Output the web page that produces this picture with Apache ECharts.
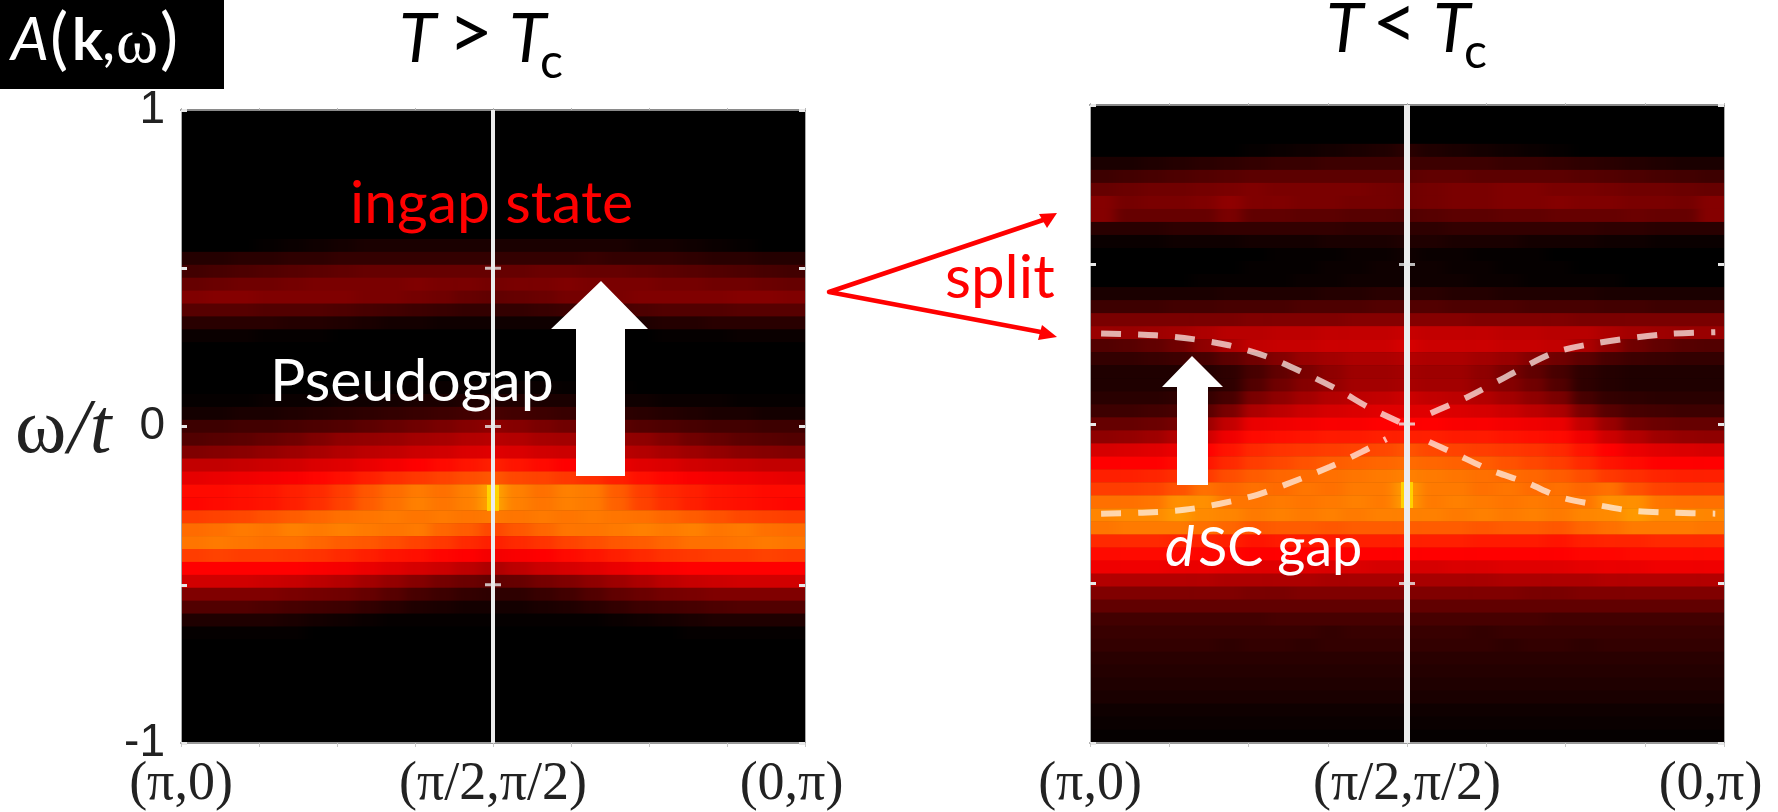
<!DOCTYPE html>
<html><head><meta charset="utf-8">
<style>
html,body{margin:0;padding:0;background:#fff}
#wrap{position:relative;width:1778px;height:812px;overflow:hidden}
#clip{position:absolute;left:0;top:0;width:1778px;height:812px;clip-path:path('M181 110H805V743H181Z M1090 105H1724V743H1090Z')}
#heat{width:1778px;height:812px;filter:url(#hblur)}
#c{position:absolute;left:0;top:0;width:1778px;height:812px}
</style>
<script src="https://cdn.jsdelivr.net/npm/echarts@6/dist/echarts.min.js"></script>
</head><body>
<svg width="0" height="0" style="position:absolute"><filter id="hblur" x="0" y="0" width="100%" height="100%" color-interpolation-filters="sRGB"><feGaussianBlur stdDeviation="6 0"/></filter></svg>
<div id="wrap"><div id="clip"><div id="heat"></div></div><div id="c"></div></div>
<script>
// x tick labels (k path) and omega ticks
const kTickLabels = ['(π,0)','','','','(π/2,π/2)','','','','(0,π)  '];
const omegaTickLabels = {'1':'1','0':'0','-1':'-1'};
const centerK = [[4,-1],[4,1]];
const centerTicks = [[4,0.5],[4,0],[4,-0.5]];
const peakAbove = [[4,-0.226]];
const peakBelow = [[4,-0.2225]];

// A(k,w) intensity rows, top row first, T > Tc
const aboveTc = [
[0,0,0,0,0,0,0,0,0,0,0,0,0,0,0,0,0,0,0,0,0,0,0,0,0],
[0,0,0,0,0,0,0,0,0,0,0,0,0,0,0,0,0,0,0,0,0,0,0,0,0],
[0,0,0,0,0,0,0,0,0,0,0,0,0,0,0,0,0,0,0,0,0,0,0,0,0],
[0,0,0,0,0,0,0,0,0,0,0,0,0,0,0,0,0,0,0,0,0,0,0,0,0],
[0,0,0,0,0,0,0,0,0,0,0,0,0,0,0,0,0,0,0,0,0,0,0,0,0],
[0,0,0,0,0,0,0,0,0,0,0,0,0,0,0,0,0,0,0,0,0,0,0,0,0],
[0,0,0,0,0,0,0,0,0,0,0,0,0,0,0,0,0,0,0,0,0,0,0,0,0],
[0,0,0,0,0,0,0,0,0,0,0,0,0,0,0,0,0,0,0,0,0,0,0,0,0],
[0,0,0,0,0,0,0,0,0,0,0,0,0,0,0,0,0,0,0,0,0,0,0,0,0],
[0,0,0,0,0,0,0,0,0,0,0,0,0,0,0,0,0,0,0,0,0,0,0,0,0],
[0,0,0,1,2,3,4,5,5,5,5,5,5,5,5,5,5,5,4,4,3,2,1,0,0],
[7,7,8,8,9,9,10,10,10,10,10,10,10,10,10,10,11,10,10,10,9,8,8,7,7],
[13,14,15,16,17,18,19,20,20,20,20,20,20,20,21,21,20,20,19,18,17,16,15,14,13],
[20,21,22,22,23,24,24,24,24,25,24,24,23,24,24,25,24,24,24,23,23,22,22,21,20],
[25,26,26,25,25,25,25,24,24,23,22,20,19,20,21,23,23,24,25,25,25,25,26,26,25],
[17,17,17,16,16,16,15,14,13,12,11,10,10,10,11,12,13,14,15,16,16,16,17,17,17],
[8,8,8,8,7,7,6,5,4,4,3,3,3,3,3,3,4,5,6,7,7,8,8,8,8],
[2,2,2,1,1,1,0,0,0,0,0,0,0,0,0,0,0,0,0,1,1,1,2,2,2],
[0,0,0,0,0,0,0,0,0,0,0,0,0,0,0,0,0,0,0,0,0,0,0,0,0],
[0,0,0,0,0,0,0,0,0,0,0,0,0,0,0,0,0,0,0,0,0,0,0,0,0],
[0,0,0,0,0,0,0,0,0,0,0,0,0,0,0,0,0,0,0,0,0,0,0,0,0],
[0,0,0,0,0,0,0,1,1,1,2,2,2,2,2,1,1,1,0,0,0,0,0,0,0],
[1,1,1,2,2,2,3,3,4,5,5,6,6,6,5,5,4,3,3,2,2,2,1,1,1],
[4,4,5,5,6,7,8,9,10,11,12,13,14,13,12,11,10,9,8,7,6,5,5,4,4],
[12,12,13,13,14,15,16,18,20,22,24,26,28,26,24,22,20,18,16,15,14,13,13,12,12],
[16,17,18,20,22,25,28,29,30,32,33,35,36,35,33,32,30,29,28,25,22,20,18,17,16],
[25,26,27,29,31,33,35,37,38,40,41,43,44,43,41,40,38,37,35,33,31,29,27,26,25],
[38,38,39,40,41,43,44,46,48,50,52,54,56,54,52,50,48,46,44,43,41,40,39,38,38],
[45,46,47,48,49,51,53,56,59,61,63,65,67,64,63,61,59,56,53,51,49,48,47,46,45],
[52,52,53,54,56,58,62,67,71,74,72,75,82,75,72,75,74,68,62,58,56,54,53,52,52],
[51,52,53,54,56,59,63,68,72,75,73,75,82,75,73,75,74,69,63,59,56,54,53,52,51],
[62,63,64,66,68,70,72,73,74,73,74,73,74,73,74,73,74,73,72,70,68,66,64,63,62],
[71,72,74,73,75,74,75,74,73,74,70,68,64,67,70,73,73,74,75,74,75,73,74,72,71],
[73,74,73,72,72,70,68,67,65,63,61,58,56,58,60,63,65,67,68,70,72,72,73,74,73],
[62,63,62,62,61,60,58,56,54,53,51,50,48,49,50,52,54,56,58,60,61,62,62,63,62],
[50,50,50,50,50,49,48,46,44,42,40,37,34,37,40,42,44,46,48,49,50,50,50,50,50],
[41,41,41,40,39,37,35,32,29,26,23,21,19,20,23,25,28,31,34,37,39,40,41,41,41],
[25,25,25,25,24,23,22,20,17,14,12,10,9,9,11,13,16,19,21,23,24,25,25,25,25],
[16,16,16,15,14,13,12,10,8,6,5,4,4,4,5,6,8,10,12,13,14,15,16,16,16],
[6,6,6,6,5,4,3,2,1,1,1,1,1,1,1,1,1,2,3,4,5,6,6,6,6],
[1,1,1,1,1,0,0,0,0,0,0,0,0,0,0,0,0,0,0,0,1,1,1,1,1],
[0,0,0,0,0,0,0,0,0,0,0,0,0,0,0,0,0,0,0,0,0,0,0,0,0],
[0,0,0,0,0,0,0,0,0,0,0,0,0,0,0,0,0,0,0,0,0,0,0,0,0],
[0,0,0,0,0,0,0,0,0,0,0,0,0,0,0,0,0,0,0,0,0,0,0,0,0],
[0,0,0,0,0,0,0,0,0,0,0,0,0,0,0,0,0,0,0,0,0,0,0,0,0],
[0,0,0,0,0,0,0,0,0,0,0,0,0,0,0,0,0,0,0,0,0,0,0,0,0],
[0,0,0,0,0,0,0,0,0,0,0,0,0,0,0,0,0,0,0,0,0,0,0,0,0],
[0,0,0,0,0,0,0,0,0,0,0,0,0,0,0,0,0,0,0,0,0,0,0,0,0],
[0,0,0,0,0,0,0,0,0,0,0,0,0,0,0,0,0,0,0,0,0,0,0,0,0]
];

// A(k,w) intensity rows, top row first, T < Tc
const belowTc = [
[0,0,0,0,0,0,0,0,0,0,0,0,0,0,0,0,0,0,0,0,0,0,0,0,0],
[0,0,0,0,0,0,0,0,0,0,0,0,0,0,0,0,0,0,0,0,0,0,0,0,0],
[0,0,0,0,0,0,0,0,0,0,0,0,0,0,0,0,0,0,0,0,0,0,0,0,0],
[0,0,0,0,0,0,1,2,3,4,5,6,8,6,5,4,3,2,1,0,0,0,0,0,0],
[5,5,6,7,8,9,10,11,11,12,12,12,12,12,12,12,11,11,10,9,8,7,6,5,5],
[12,13,14,15,16,17,18,18,18,18,18,18,18,19,19,18,18,18,18,17,16,15,14,13,12],
[20,21,22,22,23,24,25,24,24,24,24,23,22,23,24,24,25,25,24,24,23,22,22,21,20],
[26,23,24,24,25,28,25,25,24,24,23,23,22,23,24,24,25,25,26,25,25,24,24,23,26],
[26,20,20,20,20,24,19,19,18,18,17,17,16,17,18,18,19,19,20,20,20,21,20,20,26],
[8,8,8,9,9,10,10,10,10,10,9,9,9,9,10,10,10,10,10,10,9,9,8,8,8],
[2,2,2,3,3,3,4,4,4,5,5,5,6,6,5,5,5,4,4,4,3,3,2,2,2],
[0,0,0,0,0,0,0,1,1,1,2,2,3,2,2,1,1,1,0,0,0,0,0,0,0],
[0,0,0,0,0,0,1,1,1,2,2,3,3,3,2,2,1,1,1,0,0,0,0,0,0],
[0,0,0,0,1,1,1,1,2,2,3,3,3,3,3,2,2,1,1,1,1,0,0,0,0],
[5,5,5,5,5,6,6,6,6,7,7,8,8,8,7,7,6,6,6,6,5,5,5,5,5],
[12,12,12,13,13,14,14,14,15,15,15,16,16,16,15,15,15,14,14,14,13,13,12,12,12],
[24,24,24,24,24,24,25,25,25,25,26,26,26,26,26,25,25,25,25,24,24,24,24,24,24],
[30,30,31,32,34,36,36,37,37,38,38,38,39,38,38,38,37,37,36,36,34,32,31,30,30],
[16,17,19,22,28,34,38,39,39,40,40,40,42,40,40,40,39,39,38,34,28,22,19,17,16],
[10,10,11,12,14,18,22,26,30,32,34,34,35,34,34,32,30,26,22,18,14,12,11,10,10],
[6,6,6,6,7,9,14,19,24,28,31,31,32,31,31,28,24,19,14,9,7,6,6,6,6],
[6,6,6,6,7,9,16,22,26,29,32,32,33,32,32,29,26,22,16,9,7,6,6,6,6],
[8,8,8,9,10,14,24,28,32,35,37,38,40,38,37,35,32,28,24,14,10,9,8,8,8],
[12,12,13,14,17,24,34,37,40,42,43,44,44,44,43,42,40,37,34,24,17,14,13,12,12],
[20,20,21,23,30,38,46,47,48,49,49,50,50,50,49,49,48,47,46,38,30,23,21,20,20],
[28,29,31,35,40,47,52,53,54,55,55,56,56,56,55,55,54,53,52,47,40,35,31,29,28],
[42,43,44,46,50,54,58,60,61,62,63,64,66,64,63,62,61,60,58,54,50,46,44,43,42],
[50,50,50,52,54,58,62,64,66,68,69,70,71,70,69,68,66,64,62,58,54,52,50,50,50],
[56,56,57,59,61,65,68,70,71,72,73,74,75,74,73,72,71,70,68,65,61,59,57,56,56],
[62,62,63,66,72,70,72,71,73,72,74,74,80,74,74,72,73,71,72,70,72,66,63,62,62],
[72,72,73,78,78,73,73,74,73,74,75,74,80,74,75,74,73,74,73,73,78,78,73,72,72],
[76,77,77,80,77,76,74,75,74,75,74,75,75,75,74,75,74,75,74,76,77,80,77,77,76],
[73,74,74,74,72,70,67,68,68,67,68,68,68,68,68,67,68,68,67,70,72,74,74,74,73],
[58,58,58,57,57,56,54,55,55,55,56,56,56,56,56,55,55,55,54,56,57,57,58,58,58],
[52,52,52,52,51,51,50,50,50,50,50,50,50,50,50,50,50,50,50,51,51,52,52,52,52],
[47,47,47,46,46,45,44,44,44,43,43,42,42,42,43,43,44,44,44,45,46,46,47,47,47],
[35,35,35,35,35,34,34,34,34,33,33,33,33,33,33,33,34,34,34,34,35,35,35,35,35],
[25,25,25,25,25,25,24,24,25,25,25,25,25,25,25,25,25,24,24,25,25,25,25,25,25],
[19,19,19,19,19,19,19,19,19,19,19,19,19,19,19,19,19,19,19,19,19,19,19,19,19],
[13,13,13,13,13,13,13,14,14,14,14,14,14,14,14,14,14,14,13,13,13,13,13,13,13],
[11,11,11,11,11,11,11,11,11,10,11,11,11,11,11,10,11,11,11,11,11,11,11,11,11],
[10,10,10,10,10,9,10,10,9,10,10,10,10,10,10,10,9,10,10,9,10,10,10,10,10],
[8,8,8,8,8,8,8,8,8,8,8,8,8,8,8,8,8,8,8,8,8,8,8,8,8],
[7,7,7,7,7,7,7,7,7,7,7,7,7,7,7,7,7,7,7,7,7,7,7,7,7],
[6,6,6,6,6,6,6,6,6,6,6,6,6,6,6,6,6,6,6,6,6,6,6,6,6],
[5,5,5,5,5,5,5,5,5,5,5,5,5,5,5,5,5,5,5,5,5,5,5,5,5],
[3,3,3,3,3,3,3,3,3,3,3,3,3,3,3,3,3,3,3,3,3,3,3,3,3],
[2,2,2,2,2,2,2,2,2,2,2,2,2,2,2,2,2,2,2,2,2,2,2,2,2],
[1,1,1,1,1,1,1,1,1,1,1,1,1,1,1,1,1,1,1,1,1,1,1,1,1]
];

// dashed dispersion guides, T < Tc: [k position, omega/t]
const upperLeft = [[0.14,.284],[0.83,.278],[1.30,.266],[1.75,.247],[2.22,.2125],[2.68,.1625],[3.14,.106],[3.53,.05],[3.96,0]];
const upperRight = [[4.30,.034],[4.76,.084],[5.22,.144],[5.84,.222],[6.38,.253],[7.23,.281],[7.89,.288]];
const lowerLeft = [[0.14,-.281],[0.66,-.278],[1.19,-.269],[1.64,-.25],[2.11,-.222],[2.56,-.181],[3.03,-.134],[3.43,-.0875],[3.74,-.047]];
const lowerRight = [[4.28,-.056],[4.59,-.091],[5.05,-.144],[5.51,-.184],[5.92,-.228],[6.38,-.253],[6.84,-.272],[7.37,-.278],[7.89,-.281]];

// cell grid: two off-panel columns each side hold the edge colour under the horizontal smoothing
const PAD = 2;
const padded = r => [r[0],r[0],...r,r[r.length-1],r[r.length-1]];
const toCells = rows => rows.flatMap((r,y)=>padded(r).map((v,x)=>[x,y,v]));
const colIdx = padded(aboveTc[0]).map((_,i)=>i), rowIdx = aboveTc.map((_,i)=>i);
const serif = '"Liberation Serif"';

const heatChart = echarts.init(document.getElementById('heat'),null,{renderer:'canvas'});
const catX = g => ({type:'category',gridIndex:g,data:colIdx,show:false});
const catY = g => ({type:'category',gridIndex:g,data:rowIdx,inverse:true,show:false});
const heat = (d,i) => ({type:'heatmap',xAxisIndex:i,yAxisIndex:i,data:toCells(d),silent:true,animation:false,progressive:0});
const cellL = 624/25, cellR = 634/25;
heatChart.setOption({
  animation:false,backgroundColor:'#000',
  grid:[{left:181-PAD*cellL,top:110,width:624+2*PAD*cellL,height:633,outerBoundsMode:'none'},{left:1090-PAD*cellR,top:105,width:634+2*PAD*cellR,height:638,outerBoundsMode:'none'}],
  xAxis:[catX(0),catX(1)],yAxis:[catY(0),catY(1)],
  visualMap:{show:false,min:0,max:100,calculable:false,inRange:{color:['#000000','#ff0000','#ffff00']}},
  series:[heat(aboveTc,0),heat(belowTc,1)]
});

const valBottom = g => ({type:'value',gridIndex:g,position:'bottom',min:0,max:8,interval:1,
  axisLine:{show:true,onZero:false,lineStyle:{color:'#9a9a9a',width:2}},splitLine:{show:false},
  axisTick:{show:true,length:4,lineStyle:{color:'#c8c8c8',width:1}},
  axisLabel:{show:true,margin:15,fontFamily:serif,fontSize:54,color:'#222',hideOverlap:false,showMinLabel:true,showMaxLabel:true,formatter:v=>kTickLabels[v]}});
const valTop = g => ({type:'value',gridIndex:g,position:'top',min:0,max:8,interval:1,
  axisLine:{show:true,onZero:false,lineStyle:{color:'#8a8a8a',width:2}},splitLine:{show:false},
  axisTick:{show:true,length:2,lineStyle:{color:'#bbb',width:1}},axisLabel:{show:false}});
const valLeft = (g,labels) => ({type:'value',gridIndex:g,position:'left',min:-1,max:1,interval:.5,
  axisLine:{show:true,onZero:false,lineStyle:{color:'#aaa',width:1}},splitLine:{show:false},
  axisTick:{show:true,inside:true,length:6,lineStyle:{color:'#e8e8e8',width:3}},
  axisLabel:{show:labels,margin:16,fontFamily:'"Liberation Sans"',fontSize:46,color:'#222',showMinLabel:true,showMaxLabel:true,formatter:v=>omegaTickLabels[String(v)]||''}});
const valRight = g => ({type:'value',gridIndex:g,position:'right',min:-1,max:1,interval:.5,
  axisLine:{show:true,onZero:false,lineStyle:{color:'#aaa',width:1}},splitLine:{show:false},
  axisTick:{show:true,inside:true,length:6,lineStyle:{color:'#e8e8e8',width:3}},axisLabel:{show:false}});

const centerLine = (ax,width) => ({type:'line',xAxisIndex:ax,yAxisIndex:ax,data:centerK,symbol:'none',silent:true,z:5,animation:false,
  lineStyle:{color:'#ececec',width}});
const centerMarks = ax => ({type:'scatter',xAxisIndex:ax,yAxisIndex:ax,data:centerTicks,symbol:'rect',symbolSize:[16,3],silent:true,z:6,animation:false,
  itemStyle:{color:'#e8e8e8'}});
const peak = (ax,d) => ({type:'scatter',xAxisIndex:ax,yAxisIndex:ax,data:d,symbol:'rect',symbolSize:[12,26],silent:true,z:4,animation:false,
  itemStyle:{color:'#ffe000'}});
const guide = d => ({type:'line',xAxisIndex:2,yAxisIndex:2,data:d,symbol:'none',smooth:.3,silent:true,z:6,animation:false,
  lineStyle:{color:'rgba(255,245,240,0.72)',width:6,type:[20,17]}});

const LIFT = {Lato:.86,[serif]:.77};
const txt = (x,base,text,font,size,color,extra) => ({type:'text',x,y:base-LIFT[font]*size,z:100,silent:true,
  style:Object.assign({text,fontFamily:font,fontSize:size,fill:color,verticalAlign:'top'},extra||{})});
const poly = (pts,color) => ({type:'polygon',z:100,silent:true,shape:{points:pts},style:{fill:color}});
const seg = pts => ({type:'polyline',z:100,silent:true,shape:{points:pts},style:{stroke:'#ff0000',lineWidth:4.5,fill:null,lineJoin:'round'}});

const chart = echarts.init(document.getElementById('c'),null,{renderer:'canvas',useDirtyRect:false});
chart.setOption({
  animation:false,
  backgroundColor:'transparent',
  grid:[{left:181,top:110,width:624,height:633,outerBoundsMode:'none'},{left:1090,top:105,width:634,height:638,outerBoundsMode:'none'}],
  xAxis:[valBottom(0),valTop(0),valBottom(1),valTop(1)],
  yAxis:[valLeft(0,true),valRight(0),valLeft(1,false),valRight(1)],
  series:[peak(0,peakAbove),peak(2,peakBelow),
    centerLine(0,4),centerMarks(0),centerLine(2,6),centerMarks(2),
    guide(upperLeft),guide(upperRight),guide(lowerLeft),guide(lowerRight)],
  graphic:{elements:[
    {type:'rect',z:90,silent:true,shape:{x:0,y:0,width:224,height:89},style:{fill:'#000'}},
    txt(11,62,'A','Lato',60,'#fff',{fontStyle:'italic'}),
    txt(50,65,'(','Lato',68,'#fff'),
    txt(72,62,'k','Lato',58,'#fff',{fontWeight:'bold'}),
    txt(102,62,',','Lato',58,'#fff'),
    txt(116,62,'ω',serif,64,'#fff'),
    txt(160,65,')','Lato',68,'#fff'),
    txt(399,65,'T','Lato',68,'#000',{fontStyle:'italic'}),
    txt(448,62,'>','Lato',78,'#000'),
    txt(509,65,'T','Lato',68,'#000',{fontStyle:'italic'}),
    txt(540,80,'c','Lato',48,'#000'),
    txt(1326,55,'T','Lato',68,'#000',{fontStyle:'italic'}),
    txt(1372,52,'<','Lato',78,'#000'),
    txt(1433,55,'T','Lato',68,'#000',{fontStyle:'italic'}),
    txt(1464,70,'c','Lato',48,'#000'),
    txt(15,453,'ω',serif,78,'#222'),
    txt(68,453,'/t',serif,78,'#222',{fontStyle:'italic'}),
    txt(350,225,'ingap state','Lato',59,'#ff0000'),
    txt(270,403,'Pseudogap','Lato',59,'#fff'),
    txt(945,300,'split','Lato',60,'#ff0000'),
    txt(1165,568,'d','Lato',56,'#fff',{fontStyle:'italic'}),
    txt(1198,568,'SC gap','Lato',54,'#fff'),
    poly([[601,281],[648,329],[625,329],[625,476],[576,476],[576,329],[551,329]],'#fff'),
    poly([[1192,356],[1223,387],[1208,387],[1208,485],[1177,485],[1177,387],[1162,387]],'#fff'),
    seg([[1046,219],[829,292],[1046,333]]),
    poly([[1057,213],[1039,214],[1047,228]],'#ff0000'),
    poly([[1057,337],[1042,325],[1038,340]],'#ff0000')
  ]}
});
</script></body></html>
